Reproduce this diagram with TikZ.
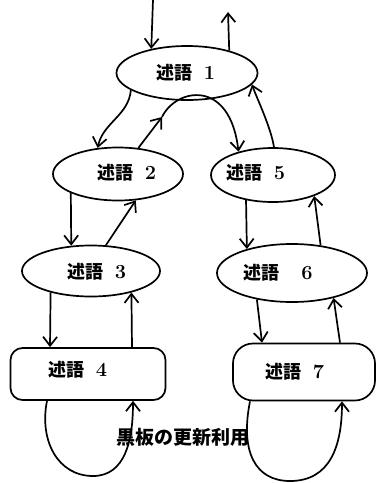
\documentclass[tikz,border=0pt]{standalone}
\usepackage{fontspec}
\newfontfamily\cjk{Noto Sans CJK JP}
\usetikzlibrary{arrows.meta,shapes.geometric}
\newcommand\predlab[2]{{\cjk 述語}\hspace{#1}{\fontsize{20}{22}\selectfont #2}}
\begin{document}
\begin{tikzpicture}[x=1pt,y=-1pt, line width=1.7pt,
  blob/.style={draw, ellipse, inner sep=0pt},
  box/.style={draw, rectangle, inner sep=0pt},
  lab/.style={font=\fontsize{18}{20}\selectfont\bfseries, inner sep=0pt},
  arr/.style={-{Straight Barb[length=9pt,width=14pt]}},
]
\useasboundingbox (0,0) rectangle (376,483);

% shapes
\node[blob, minimum width=141pt, minimum height=54pt] (n1) at (187,73) {};
\node[blob, minimum width=130pt, minimum height=53pt] (n2) at (118,174) {};
\node[blob, minimum width=124pt, minimum height=54pt] (n5) at (273,175) {};
\node[blob, minimum width=138pt, minimum height=51pt] (n3) at (91,271) {};
\node[blob, minimum width=150pt, minimum height=58pt] (n6) at (292,273) {};
\node[box, rounded corners=12pt, minimum width=155pt, minimum height=52pt] (n4) at (88,374) {};
\node[box, rounded corners=20pt, minimum width=142pt, minimum height=57pt] (n7) at (304,372) {};

% texts
\node[lab] (t1) at (186,73) {\predlab{11pt}{1}};
\node[lab] (t2) at (127,173) {\predlab{11pt}{2}};
\node[lab] (t5) at (256,173) {\predlab{11pt}{5}};
\node[lab] (t3) at (97,272) {\predlab{11pt}{3}};
\node[lab] (t6) at (278,273) {\predlab{22pt}{6}};
\node[lab] (t4) at (78,370) {\predlab{11pt}{4}};
\node[lab] (t7) at (295,372) {\predlab{11pt}{7}};
\node[font=\cjk\fontsize{19}{21}\selectfont\bfseries, inner sep=0pt] (note) at (183,437) {黒板の更新利用};

% free ends
\coordinate (in1) at (153,0);
\coordinate (out1) at (228,12);
\coordinate (bend) at (162,117);

% connectors
\draw[arr] (in1) -- (n1.146);
\draw[arr] (n1.28) -- (out1);
\draw[arr] (n1.197) .. controls +(-2,25) and +(5,-25) .. (n2.128);
\draw[arr] (n2.52) -- (bend);
\draw[arr] (bend) .. controls (176,88) and (230,78) .. (n5.146);
\draw[arr] (n5.88) .. controls +(-3,-20) and +(4,12) .. (n1.350);
\draw[arr] (n2.202) -- (n3.128);
\draw[arr] (n3.60) -- (n2.304);
\draw[arr] (n5.223) -- (n6.152);
\draw[arr] (n6.44) -- (n5.333);
\draw[arr] (n3.208) -- ([xshift=-38pt]n4.north);
\draw[arr] ([xshift=44pt]n4.north) -- (n3.332);
\draw[arr] (n6.217) -- ([xshift=-42pt]n7.north);
\draw[arr] ([xshift=36pt]n7.north) -- (n6.329);
\draw[arr] ([xshift=-41pt]n4.south) .. controls +(-8,40) and +(-35,0) .. (93,476)
   .. controls +(32,0) and +(0,40) .. ([xshift=45pt]n4.south);
\draw[arr] ([xshift=-54pt]n7.south) .. controls +(-10,50) and +(-35,0) .. (290,481)
   .. controls +(40,0) and +(0,45) .. ([xshift=38pt]n7.south);
\end{tikzpicture}
\end{document}
